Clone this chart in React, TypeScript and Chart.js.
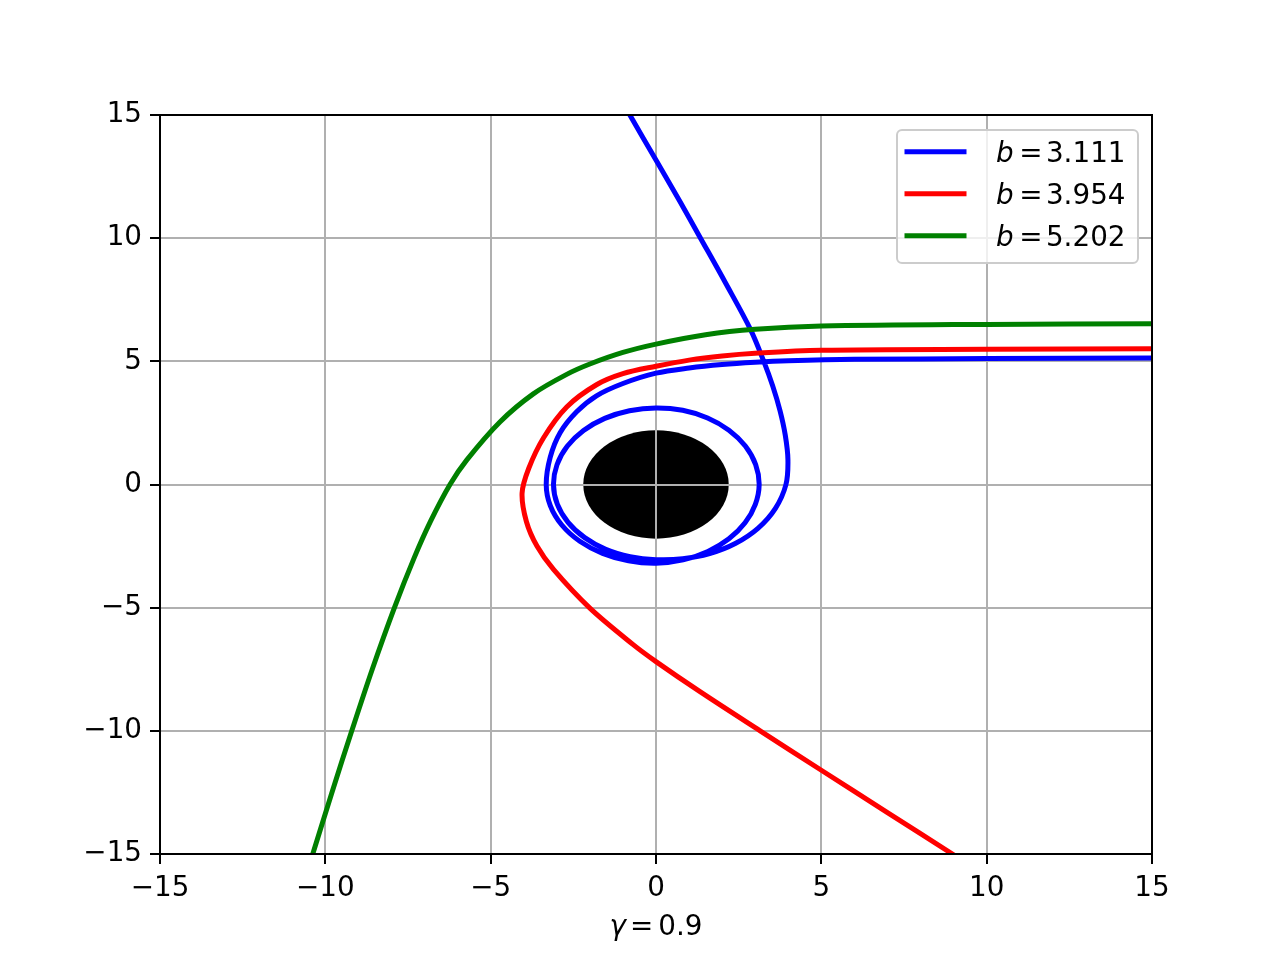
import React, { useEffect, useRef } from "react";
import { Chart, registerables } from "chart.js";

Chart.register(...registerables);

// ---------- data ----------
const axisMin = -15;
const axisMax = 15;
const tickValues = [-15, -10, -5, 0, 5, 10, 15];
const gammaValue = "0.9";
const horizonRadius = 2.2;
const bValues = ["3.111", "3.954", "5.202"];

// b = 3.111 : comes in from the right, winds twice around the hole, leaves upward
const blueX = [
  15.5, 15, 10, 6, 4, 3, 2, 1, 0, -1, -1.8, -2.4, -2.9, -3.2, -3.32,
  -3.197, -2.849, -2.305, -1.615, -0.831, 0, 0.82, 1.57, 2.206, 2.693, 3.004,
  3.12, 3.014, 2.702, 2.206, 1.56, 0.807, 0,
  -0.802, -1.55, -2.192, -2.685, -2.994, -3.1, -2.985, -2.659, -2.157, -1.52, -0.784, 0,
  0.807, 1.62, 2.397, 3.083, 3.612, 3.93,
  3.99, 3.91, 3.75, 3.53, 3.26, 2.86, 2.1, 1.33, 0.72, 0.03, -0.79, -1.0,
];
const blueY = [
  5.15, 5.14, 5.11, 5.08, 5.02, 4.96, 4.87, 4.73, 4.52, 4.1, 3.6, 2.95, 2.1, 1.1, 0,
  -0.857, -1.645, -2.305, -2.797, -3.101, -3.2, -3.062, -2.719, -2.206, -1.555, -0.805,
  0, 0.807, 1.56, 2.206, 2.702, 3.014, 3.11,
  2.994, 2.685, 2.192, 1.55, 0.802, 0, -0.8, -1.535, -2.157, -2.633, -2.927, -3.05,
  -3.014, -2.806, -2.397, -1.78, -0.968, 0,
  1.0, 2.0, 3.0, 4.0, 5.0, 6.29, 8.19, 10.04, 11.5, 13.1, 15.0, 15.5,
];

// b = 3.954 : deflected once, leaves down-right
const redX = [
  15.5, 15, 10, 5, 3, 2, 1, 0, -1, -1.8, -2.7, -3.4, -3.85, -4.05, -3.92, -3.6, -3.1, -2.0, -0.7, 0,
  1.33, 3.15, 5, 7, 9.0, 9.6,
];
const redY = [
  5.51, 5.51, 5.49, 5.45, 5.33, 5.22, 5.05, 4.8, 4.5, 4.05, 3.15, 1.9, 0.65, -0.35, -1.5, -2.5, -3.45, -5.02, -6.49, -7.19,
  -8.41, -10.0, -11.6, -13.32, -15.03, -15.55,
];

// b = 5.202 : weakest deflection, leaves down-left
const greenX = [
  15.5, 15, 10, 5, 3, 1.5, 0, -1, -2, -2.7, -3.71, -4.72, -5.72, -6.23, -6.82, -7.32, -7.91, -8.58, -9.2, -9.8,
  -10.38, -10.52,
];
const greenY = [
  6.53, 6.53, 6.5, 6.43, 6.3, 6.08, 5.7, 5.36, 4.89, 4.47, 3.68, 2.54, 1.0, 0, -1.5, -3.0, -5.0, -7.5, -10.0, -12.5,
  -15.0, -15.6,
];

// ---------- styles ----------
const seriesColors = ["#0000ff", "#ff0000", "#008000"];
const FONT = '"DejaVu Sans"';
const FS = 27.8;

const toPoints = (xs: number[], ys: number[]) => xs.map((x, i) => ({ x, y: ys[i] }));

const fmtTick = (v: number | string) => {
  const n = Number(v);
  return n < 0 ? "\u2212" + Math.abs(n) : String(n);
};

const horizonPlugin = {
  id: "horizon",
  beforeDraw(chart: any) {
    const { ctx } = chart;
    const xs = chart.scales.x;
    const ys = chart.scales.y;
    const cx = xs.getPixelForValue(0);
    const cy = ys.getPixelForValue(0);
    const rx = Math.abs(xs.getPixelForValue(horizonRadius) - cx);
    const ry = Math.abs(ys.getPixelForValue(horizonRadius) - cy);
    ctx.save();
    ctx.fillStyle = "#000";
    ctx.beginPath();
    ctx.ellipse(cx, cy, rx, ry, 0, 0, Math.PI * 2);
    ctx.fill();
    ctx.restore();
  },
};

const framePlugin = {
  id: "frame",
  afterDatasetsDraw(chart: any) {
    const { ctx, chartArea: a } = chart;
    ctx.save();
    ctx.strokeStyle = "#000";
    ctx.lineWidth = 2;
    ctx.strokeRect(a.left, a.top, a.right - a.left, a.bottom - a.top);
    ctx.restore();
  },
};

const drawMath = (
  ctx: CanvasRenderingContext2D,
  x: number,
  y: number,
  sym: string,
  value: string,
  gap1: number,
  gap2: number
) => {
  ctx.font = `italic ${FS}px ${FONT}`;
  ctx.fillText(sym, x, y);
  let xx = x + ctx.measureText(sym).width + gap1;
  ctx.font = `${FS}px ${FONT}`;
  ctx.fillText("=", xx, y);
  xx += ctx.measureText("=").width + gap2;
  ctx.fillText(value, xx, y);
};

const mathWidth = (ctx: CanvasRenderingContext2D, sym: string, value: string, gap1: number, gap2: number) => {
  ctx.font = `italic ${FS}px ${FONT}`;
  const w1 = ctx.measureText(sym).width;
  ctx.font = `${FS}px ${FONT}`;
  return w1 + gap1 + ctx.measureText("=").width + gap2 + ctx.measureText(value).width;
};

const legendPlugin = {
  id: "mplLegend",
  afterDraw(chart: any) {
    const { ctx, chartArea: a } = chart;
    const boxW = 241;
    const boxH = 133;
    const boxRight = a.right - 14;
    const boxTop = a.top + 15;
    const boxLeft = boxRight - boxW;
    ctx.save();
    ctx.beginPath();
    ctx.roundRect(boxLeft, boxTop, boxW, boxH, 5);
    ctx.fillStyle = "rgba(255,255,255,0.8)";
    ctx.fill();
    ctx.strokeStyle = "#cccccc";
    ctx.lineWidth = 2;
    ctx.stroke();
    chart.data.datasets.forEach((ds: any, i: number) => {
      const ly = boxTop + 21.7 + i * 42;
      ctx.beginPath();
      ctx.strokeStyle = ds.borderColor;
      ctx.lineWidth = 5;
      ctx.lineCap = "butt";
      ctx.moveTo(boxLeft + 7.5, ly);
      ctx.lineTo(boxLeft + 69.5, ly);
      ctx.stroke();
      ctx.fillStyle = "#000";
      ctx.textBaseline = "alphabetic";
      ctx.textAlign = "left";
      drawMath(ctx, boxLeft + 99, ly + 10.5, "b", bValues[i], 5.5, 3.5);
    });
    ctx.restore();
  },
};

const xLabelPlugin = {
  id: "xLabel",
  afterDraw(chart: any) {
    const { ctx, chartArea: a } = chart;
    ctx.save();
    ctx.fillStyle = "#000";
    ctx.textBaseline = "alphabetic";
    ctx.textAlign = "left";
    const w = mathWidth(ctx, "\u03b3", gammaValue, 4, 5);
    const x0 = (a.left + a.right) / 2 - w / 2;
    drawMath(ctx, x0, a.bottom + 81, "\u03b3", gammaValue, 4, 5);
    ctx.restore();
  },
};

export default function App() {
  const ref = useRef<HTMLCanvasElement>(null);

  useEffect(() => {
    const series = [
      { xs: blueX, ys: blueY },
      { xs: redX, ys: redY },
      { xs: greenX, ys: greenY },
    ];
    const datasets = series.map((s, i) => ({
      label: `b = ${bValues[i]}`,
      data: toPoints(s.xs, s.ys),
      borderColor: seriesColors[i],
      backgroundColor: seriesColors[i],
      borderWidth: 5,
      pointRadius: 0,
      pointHoverRadius: 0,
      showLine: true,
      fill: false,
      tension: 0.33,
      cubicInterpolationMode: "default",
      clip: 0,
      order: 3 - i,
    }));

    const axisCommon = (isX: boolean) => ({
      type: "linear" as const,
      min: axisMin,
      max: axisMax,
      afterBuildTicks: (s: any) => {
        s.ticks = tickValues.map((v) => ({ value: v }));
      },
      afterFit: (s: any) => {
        if (isX) s.height = 106;
        else s.width = 160;
      },
      grid: {
        color: "#b0b0b0",
        lineWidth: 2,
        drawTicks: true,
        tickLength: 10,
        tickColor: "#000",
        tickWidth: 2,
      },
      border: { display: true, color: "#000", width: 2 },
      ticks: {
        font: { family: "DejaVu Sans", size: FS },
        color: "#000",
        padding: 8,
        autoSkip: false,
        maxRotation: 0,
        callback: (v: any) => fmtTick(v),
      },
    });

    const chart = new Chart(ref.current as HTMLCanvasElement, {
      type: "line",
      data: { datasets },
      options: {
        responsive: false,
        animation: false,
        devicePixelRatio: 1,
        events: [],
        layout: { padding: { left: 0, right: 128, top: 115, bottom: 0 } },
        elements: { line: { tension: 0.33, capBezierPoints: false } },
        plugins: {
          legend: { display: false },
          tooltip: { enabled: false },
          title: { display: false },
        },
        scales: {
          x: { ...axisCommon(true), position: "bottom" },
          y: { ...axisCommon(false), position: "left" },
        },
      } as any,
      plugins: [horizonPlugin, framePlugin, legendPlugin, xLabelPlugin],
    });
    return () => chart.destroy();
  }, []);

  return (
    <div style={{ position: "absolute", left: 0, top: 0, width: 1280, height: 960, background: "#fff" }}>
      <canvas ref={ref} width={1280} height={960} style={{ display: "block", width: 1280, height: 960 }} />
    </div>
  );
}
